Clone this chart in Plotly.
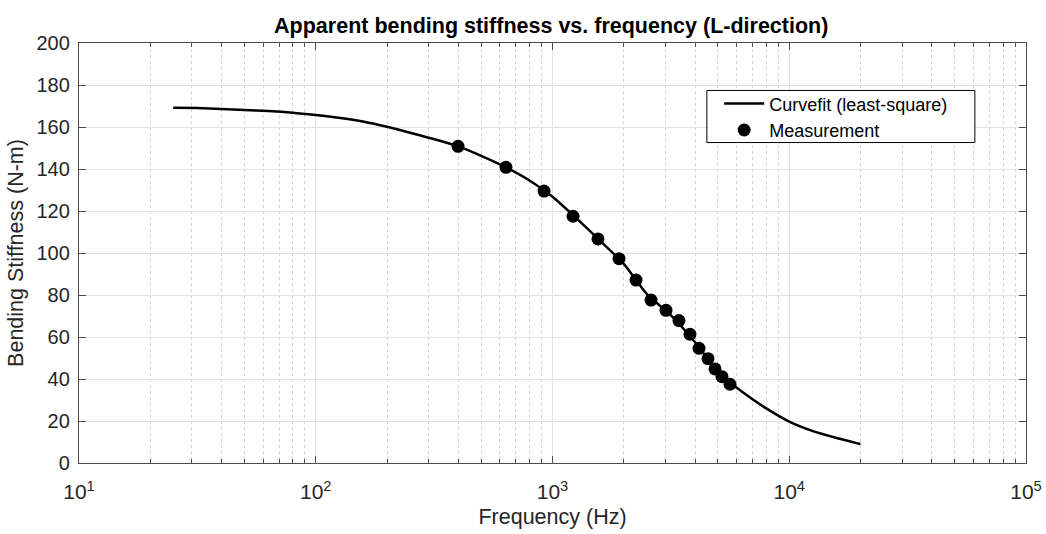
import plotly.graph_objects as go

# curve fit (least-square), sampled at 1/3-octave frequencies
fit_freq = [25, 31.5, 40, 50, 63, 80, 100, 125, 160, 200, 250, 315, 400, 500, 630,
            800, 1000, 1250, 1600, 2000, 2500, 3150, 4000, 5000, 6300, 8000,
            10000, 12500, 16000, 20000]
fit_stiff = [169.2, 169.0, 168.6, 168.1, 167.6, 166.8, 165.7, 164.4, 162.5, 160.1,
             157.3, 154.3, 150.8, 146.3, 141.0, 134.5, 126.8, 117.0, 105.5, 94.8,
             80.5, 70.5, 57.5, 43.5, 34.0, 26.0, 19.7, 15.3, 11.8, 9.0]

# measured points
meas_freq = [399, 636, 921, 1221, 1556, 1910, 2253, 2607, 3016, 3421, 3808, 4157,
             4538, 4858, 5200, 5620]
meas_stiff = [150.8, 140.8, 129.5, 117.5, 106.7, 97.3, 87.1, 77.6, 72.7, 67.8,
              61.3, 54.6, 49.7, 44.8, 41.1, 37.5]

x_ticks = [10, 100, 1000, 10000, 100000]
x_ticktext = ['10<sup>1</sup>', '10<sup>2</sup>', '10<sup>3</sup>', '10<sup>4</sup>', '10<sup>5</sup>']
y_ticks = list(range(0, 201, 20))

minor_x = [m * 10 ** e for e in range(1, 5) for m in range(2, 10)]

fig = go.Figure()

fig.add_trace(go.Scatter(
    x=fit_freq, y=fit_stiff, mode='lines', name='Curvefit (least-square)',
    line=dict(color='black', width=2.5, shape='spline', smoothing=0.6),
))

fig.add_trace(go.Scatter(
    x=meas_freq, y=meas_stiff, mode='markers', name='Measurement',
    marker=dict(color='black', size=13),
))

axis_col = '#4d4d4d'
text_col = '#262626'

# legend frame (MATLAB style box, wider than the entries)
fig.add_shape(type='rect', xref='paper', yref='paper',
              x0=0.663, x1=0.946, y0=0.763, y1=0.887,
              line=dict(color='black', width=1), fillcolor='white', layer='above')

fig.update_layout(
    width=1046, height=534,
    margin=dict(l=79, r=20, t=43, b=71),
    paper_bgcolor='white', plot_bgcolor='white',
    font=dict(family='Liberation Sans, Arial', size=20, color=text_col),
    title=dict(text='<b>Apparent bending stiffness vs. frequency (L-direction)</b>',
               x=0.527, xanchor='center', y=0.952, yanchor='middle',
               font=dict(size=21.5, color='black')),
    showlegend=True,
    legend=dict(x=0.676, y=0.899, xanchor='left', yanchor='top',
                bgcolor='rgba(0,0,0,0)', borderwidth=0,
                font=dict(size=18, color='black'), tracegroupgap=0,
                itemwidth=40),
    xaxis=dict(
        type='log', range=[1, 5], automargin=False,
        tickmode='array', tickvals=x_ticks, ticktext=x_ticktext,
        ticks='inside', ticklen=7, tickcolor=axis_col,
        showline=True, linecolor=axis_col, linewidth=1.3, mirror='ticks',
        showgrid=True, gridcolor='#e3e3e3', gridwidth=1,
        zeroline=False, ticklabelstandoff=10,
        tickfont=dict(size=21),
        title=dict(text='Frequency (Hz)', font=dict(size=21.5), standoff=6),
        minor=dict(tickmode='array', tickvals=minor_x, ticks='inside', ticklen=4,
                   tickcolor=axis_col, showgrid=True, gridcolor='#d4d4d4',
                   griddash='dot', gridwidth=1),
    ),
    yaxis=dict(
        range=[0, 200], automargin=False,
        tickmode='array', tickvals=y_ticks,
        ticks='inside', ticklen=7, tickcolor=axis_col,
        showline=True, linecolor=axis_col, linewidth=1.3, mirror='ticks',
        showgrid=True, gridcolor='#e3e3e3', gridwidth=1,
        zeroline=False, ticklabelstandoff=4,
        tickfont=dict(size=20),
        title=dict(text='Bending Stiffness (N-m)', font=dict(size=21.5), standoff=6),
    ),
)

# drop the browser's default body margin so the figure sits at the page corner
fig.write_html("out.html", config={'displayModeBar': False},
               post_script="document.body.style.margin='0';")
